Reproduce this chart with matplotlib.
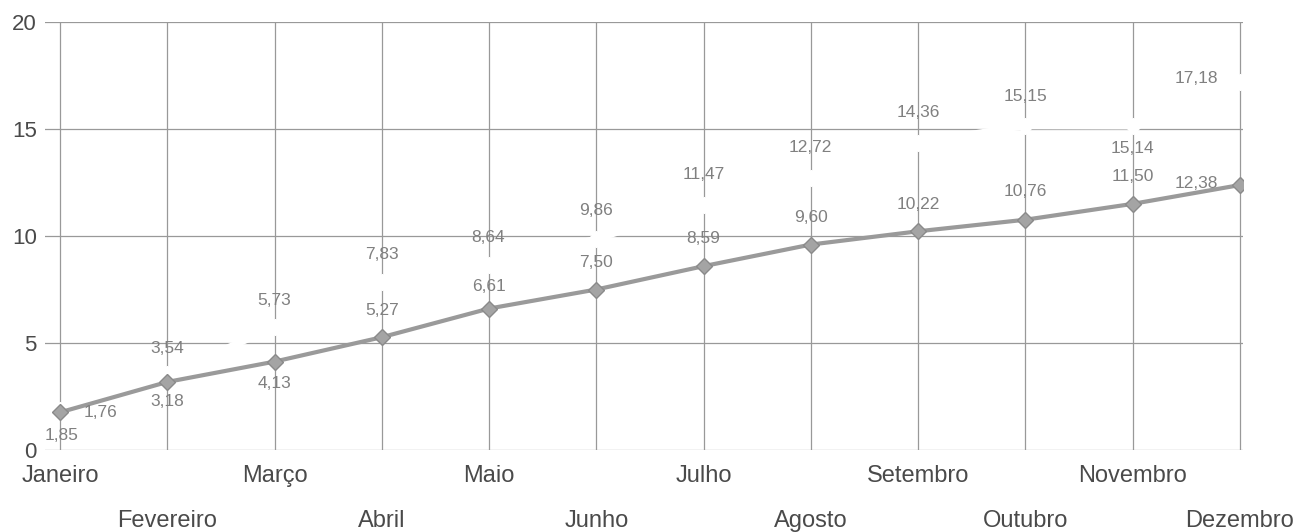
import matplotlib
matplotlib.use("Agg")
import matplotlib.pyplot as plt
from matplotlib.ticker import FixedLocator

# ---- data ----
months = ["Janeiro", "Fevereiro", "Março", "Abril", "Maio", "Junho",
          "Julho", "Agosto", "Setembro", "Outubro", "Novembro", "Dezembro"]
series_gray = [1.76, 3.18, 4.13, 5.27, 6.61, 7.50, 8.59, 9.60, 10.22, 10.76, 11.50, 12.38]
series_white = [1.85, 3.54, 5.73, 7.83, 8.64, 9.86, 11.47, 12.72, 14.36, 15.15, 15.14, 17.18]
y_ticks = [0, 5, 10, 15, 20]

# ---- label offsets (pixels, style only) ----
gray_off = [(40, 0), (0, -20), (0, -22), (0, 27), (0, 22), (0, 27),
            (0, 28), (0, 27), (0, 27), (0, 28), (0, 27), (-43, 2)]
white_off = [(2, -25), (0, 26), (0, 27), (0, 28), (-1, 28), (0, 28),
             (0, 30), (0, 30), (0, 30), (0, 29), (0, -22), (-43, 4)]

plt.rcParams['font.family'] = ['Liberation Sans', 'DejaVu Sans']

W, H = 1304, 532
fig = plt.figure(figsize=(W / 100, H / 100), dpi=100)
ax = fig.add_axes([45 / W, (H - 450) / H, (1243 - 45) / W, (450 - 22) / H])

x = list(range(len(months)))
ax.set_xlim(-0.14, 11.03)
ax.set_ylim(0, 20)

for s in ax.spines.values():
    s.set_visible(False)

# grid
ax.set_yticks(y_ticks)
ax.set_yticklabels([str(v) for v in y_ticks], fontsize=16, color="#4a4a4a")
ax.tick_params(axis="y", length=0, pad=6)
for v in y_ticks:
    ax.axhline(v, color="#999999", lw=0.9, zorder=1)
for xi in x:
    ax.axvline(xi, color="#999999", lw=0.9, zorder=1)

# x tick labels in two rows
ax.xaxis.set_major_locator(FixedLocator(x[0::2]))
ax.set_xticklabels(months[0::2])
ax.xaxis.set_minor_locator(FixedLocator(x[1::2]))
ax.set_xticklabels(months[1::2], minor=True)
ax.tick_params(axis="x", which="major", length=0, pad=11, labelsize=17, labelcolor="#4a4a4a")
ax.tick_params(axis="x", which="minor", length=0, pad=43, labelsize=17, labelcolor="#4a4a4a")

# white series
ax.plot(x, series_white, color="white", lw=5, marker="D", markersize=8,
        markerfacecolor="white", markeredgecolor="white", zorder=3)
# gray series
ax.plot(x, series_gray, color="#9a9a9a", lw=3, marker="D", markersize=8,
        markerfacecolor="#a4a4a4", markeredgecolor="#8a8a8a", zorder=4)

def fmt(v):
    return f"{v:.2f}".replace(".", ",")

for xi, v, (dx, dy) in zip(x, series_gray, gray_off):
    ax.annotate(fmt(v), (xi, v), xytext=(dx * 0.72, dy * 0.72), textcoords="offset points",
                ha="center", va="center", fontsize=12.5, color="#808080", zorder=5)
for xi, v, (dx, dy) in zip(x, series_white, white_off):
    ax.annotate(fmt(v), (xi, v), xytext=(dx * 0.72, dy * 0.72), textcoords="offset points",
                ha="center", va="center", fontsize=12.5, color="#808080", zorder=5)

fig.savefig("out.png", dpi=100)
